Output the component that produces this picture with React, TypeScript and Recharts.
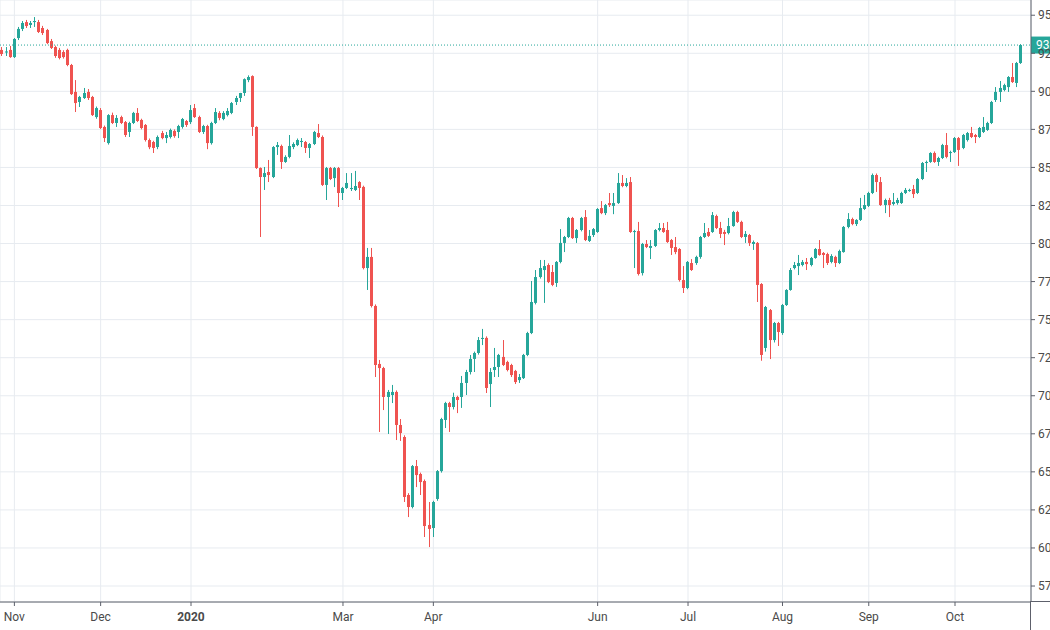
import React from 'react';
import { ComposedChart, Bar, XAxis, YAxis, CartesianGrid, ReferenceLine } from 'recharts';

// daily candles, Nov 2019 - Oct 2020
const opens = [
  92.72, 92.55, 92.72, 92.25, 93.5, 94.1, 94.55, 94.36, 94.55, 94.55,
  94.16, 94.03, 93.3, 92.91, 92.72, 92.58, 92.72, 91.73, 89.96, 89.3,
  89.56, 89.96, 89.63, 88.31, 88.77, 87.66, 86.6, 88.44, 87.92, 88.31,
  87.98, 87.33, 87.92, 88.58, 88.12, 87.79, 86.8, 86.67, 86.34, 87.26,
  86.93, 87.0, 87.4, 87.33, 87.66, 88.05, 87.98, 88.9, 88.31, 87.33,
  87.72, 86.6, 87.92, 88.58, 88.18, 88.44, 88.58, 89.3, 89.56, 89.89,
  90.74, 91.0, 87.66, 84.96, 84.37, 84.7, 84.37, 86.34, 86.41, 85.36,
  85.69, 86.34, 86.47, 86.67, 86.67, 86.28, 86.54, 87.26, 87.0, 83.85,
  84.96, 84.3, 84.96, 83.32, 83.65, 83.58, 83.52, 84.04, 83.72, 78.39,
  79.12, 75.9, 72.09, 71.82, 69.92, 70.05, 70.25, 68.08, 67.29, 63.48,
  62.69, 65.38, 64.86, 64.4, 61.51, 61.31, 63.22, 65.05, 68.41, 69.52,
  69.26, 69.92, 69.92, 70.84, 71.56, 72.42, 72.81, 73.73, 73.8, 70.77,
  71.69, 71.89, 72.55, 72.22, 72.02, 71.63, 71.03, 71.16, 72.68, 74.12,
  76.1, 77.8, 78.26, 78.59, 78.13, 77.41, 78.79, 80.04, 80.43, 81.68,
  80.36, 80.89, 81.74, 80.17, 80.56, 80.76, 82.33, 82.0, 82.66, 82.47,
  82.66, 83.98, 83.78, 84.04, 80.76, 80.82, 78.06, 79.97, 79.71, 79.84,
  80.89, 81.02, 80.89, 80.23, 79.77, 79.64, 77.6, 77.08, 78.72, 78.72,
  79.12, 80.43, 80.76, 80.76, 81.81, 81.02, 80.76, 80.69, 81.15, 82.07,
  81.42, 80.43, 80.56, 79.97, 80.04, 77.34, 73.14, 75.63, 73.66, 74.78,
  74.12, 75.96, 76.95, 78.39, 78.52, 78.59, 78.79, 78.59, 79.05, 79.64,
  79.38, 79.31, 78.79, 79.12, 78.72, 79.44, 81.09, 81.61, 81.28, 81.55,
  82.27, 82.47, 83.32, 84.5, 84.04, 82.53, 82.86, 82.6, 82.66, 82.66,
  83.32, 83.45, 83.58, 83.32, 84.24, 85.29, 85.36, 85.95, 85.36, 85.62,
  86.47, 85.95, 86.01, 86.93, 86.28, 86.8, 87.26, 87.13, 87.0, 87.33,
  87.46, 87.92, 89.43, 89.96, 90.09, 90.28, 90.94, 90.55, 91.86,
];
const highs = [
  92.91, 92.91, 92.98, 93.5, 94.23, 94.62, 94.69, 94.62, 94.88, 94.69,
  94.3, 94.1, 93.44, 93.0, 92.85, 92.7, 92.8, 91.8, 90.74, 89.7,
  90.22, 90.15, 89.7, 89.0, 88.9, 87.75, 88.5, 88.6, 88.44, 88.4,
  88.05, 88.0, 88.65, 88.9, 88.2, 87.85, 86.9, 86.75, 87.1, 87.4,
  87.33, 87.55, 87.5, 87.8, 88.25, 88.12, 89.1, 89.17, 88.4, 87.8,
  87.8, 88.0, 88.9, 88.7, 88.7, 88.9, 89.3, 89.7, 89.9, 90.85,
  91.05, 91.05, 87.7, 85.0, 85.03, 85.49, 86.4, 86.67, 86.5, 85.8,
  87.13, 86.65, 86.9, 86.93, 86.74, 86.6, 87.4, 87.85, 87.1, 85.03,
  85.03, 85.03, 85.03, 83.72, 84.63, 84.63, 84.77, 84.1, 83.8, 79.71,
  79.71, 76.0, 72.35, 71.9, 70.38, 70.71, 70.35, 68.47, 67.4, 63.6,
  65.45, 65.78, 64.95, 64.5, 63.02, 63.1, 65.12, 68.55, 69.6, 69.6,
  70.2, 70.0, 71.3, 71.7, 72.68, 72.9, 73.86, 74.39, 73.9, 71.82,
  73.14, 72.75, 73.66, 72.3, 72.1, 71.7, 71.43, 72.75, 74.2, 77.54,
  78.26, 78.92, 78.92, 78.7, 78.59, 78.85, 80.95, 80.5, 81.75, 81.75,
  80.95, 81.75, 82.2, 80.89, 81.02, 82.33, 82.79, 82.6, 83.32, 83.32,
  84.63, 84.5, 84.3, 84.37, 80.9, 81.42, 80.04, 80.23, 80.23, 80.95,
  81.35, 81.35, 81.42, 80.3, 80.43, 79.7, 78.52, 78.85, 78.98, 79.2,
  80.5, 81.35, 81.02, 82.07, 81.9, 81.42, 80.9, 81.68, 82.15, 82.15,
  81.5, 80.82, 80.63, 80.2, 80.1, 77.4, 75.9, 75.7, 74.85, 74.85,
  76.03, 77.0, 78.39, 78.79, 79.25, 78.92, 79.05, 79.12, 79.7, 80.23,
  79.44, 79.4, 79.3, 79.2, 79.6, 81.15, 82.0, 81.7, 81.6, 83.0,
  83.19, 83.4, 84.6, 84.6, 84.37, 82.95, 83.0, 83.32, 83.0, 83.4,
  83.65, 83.6, 83.85, 84.3, 85.36, 85.45, 86.0, 86.05, 85.7, 86.55,
  87.26, 86.1, 87.0, 87.0, 87.2, 87.33, 87.66, 87.2, 87.66, 88.31,
  88.0, 89.37, 90.28, 90.68, 90.5, 91.0, 91.86, 91.93, 93.1,
];
const lows = [
  92.32, 92.32, 92.2, 92.19, 93.37, 93.96, 94.16, 94.16, 94.23, 93.83,
  93.7, 93.1, 92.78, 92.2, 92.1, 92.15, 91.65, 89.76, 88.64, 88.97,
  89.5, 89.43, 88.38, 88.2, 87.52, 86.67, 86.5, 87.85, 87.66, 87.85,
  87.0, 87.0, 87.85, 87.98, 87.5, 86.7, 86.2, 85.95, 86.2, 86.85,
  86.6, 86.9, 86.95, 86.93, 87.55, 87.66, 87.85, 88.25, 87.26, 87.2,
  86.2, 86.5, 87.85, 88.1, 88.1, 88.35, 88.5, 89.1, 89.3, 89.7,
  90.6, 87.07, 84.9, 80.43, 83.52, 84.04, 84.3, 85.82, 84.9, 85.3,
  85.6, 86.2, 86.4, 86.34, 85.95, 85.62, 86.47, 86.93, 83.78, 82.86,
  84.17, 83.71, 82.4, 82.86, 83.58, 83.45, 83.45, 82.86, 78.3, 76.95,
  75.8, 71.23, 67.62, 69.06, 67.49, 69.52, 67.09, 67.03, 63.02, 62.03,
  62.6, 64.0, 63.48, 60.72, 60.06, 60.72, 63.1, 64.95, 67.88, 67.62,
  69.1, 68.86, 69.2, 70.05, 71.4, 71.56, 72.7, 73.33, 70.18, 69.26,
  71.23, 71.23, 71.95, 71.6, 71.23, 70.77, 70.84, 71.1, 72.6, 74.05,
  76.0, 77.7, 76.1, 77.4, 77.2, 77.15, 78.7, 79.44, 80.36, 80.3,
  80.04, 80.8, 80.16, 80.1, 80.43, 80.7, 81.93, 81.87, 82.4, 81.93,
  82.6, 83.7, 83.7, 80.7, 78.39, 77.9, 77.9, 79.7, 78.98, 79.77,
  80.8, 80.7, 80.04, 79.25, 79.3, 77.5, 76.75, 77.0, 78.2, 78.6,
  79.0, 80.36, 80.43, 80.7, 80.95, 80.36, 79.9, 80.6, 81.1, 81.35,
  80.36, 80.04, 79.84, 79.58, 76.16, 72.3, 72.9, 72.41, 73.5, 73.27,
  74.0, 75.9, 76.9, 78.3, 77.93, 78.5, 78.26, 78.5, 79.0, 79.2,
  78.39, 78.59, 78.7, 78.46, 78.65, 79.4, 81.0, 81.2, 81.15, 81.48,
  82.2, 82.4, 83.25, 83.39, 82.47, 82.0, 81.74, 82.5, 82.55, 82.6,
  83.25, 83.4, 82.99, 83.25, 84.17, 84.7, 85.3, 85.3, 85.1, 85.55,
  85.6, 85.36, 85.95, 85.1, 86.2, 86.7, 86.93, 86.6, 86.93, 87.26,
  87.4, 87.85, 89.3, 89.3, 90.0, 89.96, 90.55, 90.28, 91.8,
];
const closes = [
  92.45, 92.62, 92.25, 93.44, 94.1, 94.49, 94.29, 94.49, 94.62, 93.9,
  93.83, 93.17, 92.85, 92.32, 92.19, 92.25, 91.73, 89.82, 89.23, 89.63,
  89.89, 89.56, 88.44, 88.9, 87.59, 86.93, 88.44, 87.92, 88.25, 87.92,
  87.13, 87.92, 88.58, 88.05, 87.59, 86.8, 86.33, 86.28, 87.0, 86.93,
  87.13, 87.46, 87.06, 87.72, 88.18, 87.79, 88.77, 88.31, 87.33, 87.72,
  86.6, 87.92, 88.64, 88.25, 88.58, 88.71, 89.23, 89.56, 89.89, 90.8,
  90.94, 87.66, 84.96, 84.37, 84.63, 84.5, 86.34, 86.47, 85.36, 85.69,
  86.41, 86.54, 86.8, 86.74, 86.28, 86.54, 87.33, 87.0, 83.85, 84.96,
  84.24, 84.96, 83.32, 83.65, 83.98, 83.65, 83.78, 83.65, 78.39, 79.12,
  75.9, 72.02, 71.82, 69.92, 70.25, 70.25, 68.08, 67.55, 63.35, 62.69,
  65.38, 64.79, 64.33, 61.44, 61.25, 63.02, 65.05, 68.47, 69.52, 69.26,
  69.92, 69.72, 70.84, 71.56, 72.42, 72.81, 73.66, 73.8, 70.51, 71.56,
  71.89, 72.68, 72.02, 71.69, 71.36, 70.9, 71.23, 72.68, 74.12, 76.16,
  77.8, 78.39, 78.52, 77.47, 77.28, 78.79, 80.04, 80.43, 81.68, 80.36,
  80.89, 81.68, 80.23, 80.5, 80.95, 82.27, 82.0, 82.53, 82.53, 82.66,
  83.98, 83.78, 83.98, 80.76, 80.82, 78.0, 79.97, 79.77, 79.84, 80.89,
  81.02, 80.76, 80.1, 79.71, 79.44, 77.6, 77.08, 78.79, 78.26, 79.12,
  80.43, 80.69, 80.5, 81.87, 81.02, 80.63, 80.63, 81.15, 82.07, 81.42,
  80.43, 80.63, 80.04, 80.1, 77.28, 72.68, 75.83, 73.66, 74.78, 74.19,
  75.96, 76.95, 78.26, 78.59, 78.72, 78.79, 78.65, 79.05, 79.64, 79.25,
  79.25, 78.72, 79.18, 78.72, 79.51, 81.09, 81.61, 81.28, 81.55, 82.33,
  82.53, 83.32, 84.5, 84.04, 82.53, 82.86, 82.53, 82.73, 82.86, 83.32,
  83.52, 83.52, 83.25, 84.24, 85.29, 85.36, 85.95, 85.36, 85.62, 86.47,
  85.69, 86.01, 86.93, 86.15, 87.13, 87.26, 87.0, 87.0, 87.59, 87.66,
  87.92, 89.3, 89.96, 90.22, 90.41, 90.94, 90.61, 91.86, 93.04,
];

// first bar of each month shown on the time axis
const monthIdx = [3, 24, 46, 83, 105, 145, 167, 190, 211, 232];
const monthLabels = ['Nov', 'Dec', '2020', 'Mar', 'Apr', 'Jun', 'Jul', 'Aug', 'Sep', 'Oct'];
const priceTicks = [57.5, 60, 62.5, 65, 67.5, 70, 72.5, 75, 77.5, 80, 82.5, 85, 87.5, 90, 92.5, 95];
const emptyBars = 2; // right margin of the time scale

const UP = '#26a69a';
const DOWN = '#ef5350';
const AXIS = '#5d606b';
const TEXT = '#4a4a4a';
const GRID = '#e7ebf0';

const rows = [];
for (let i = 0; i < opens.length + emptyBars; i++) {
  if (i < opens.length) {
    rows.push({ i, o: opens[i], h: highs[i], l: lows[i], c: closes[i], range: [lows[i], highs[i]] });
  } else {
    rows.push({ i, range: null });
  }
}
const lastClose = closes[closes.length - 1];

function Candle(props: any) {
  const { x, y, width, height, payload } = props;
  if (!payload || payload.o == null) return null;
  const { o, h, l, c } = payload;
  const top = Math.min(y, y + height);
  const hgt = Math.abs(height);
  const span = h - l;
  const pos = (v: number) => (span > 0 ? top + ((h - v) / span) * hgt : top);
  const cx = Math.floor(x + width / 2) + 0.5;
  const bTop = pos(Math.max(o, c));
  const bBot = pos(Math.min(o, c));
  const color = c >= o ? UP : DOWN;
  return (
    <g>
      <line x1={cx} x2={cx} y1={top} y2={top + hgt} stroke={color} strokeWidth={1} />
      <rect x={cx - 1.5} y={bTop} width={3} height={Math.max(1, bBot - bTop)} fill={color} />
    </g>
  );
}

function TimeTick(props: any) {
  const { x, y, payload } = props;
  const k = monthIdx.indexOf(payload.value);
  const label = k >= 0 ? monthLabels[k] : '';
  return (
    <text x={x} y={y} dy="0.71em" textAnchor="middle" fill={TEXT} fontSize={12}
      fontFamily="Roboto, sans-serif" fontWeight={label === '2020' ? 700 : 400}>
      {label}
    </text>
  );
}

function PriceLine(props: any) {
  const { x1, x2, y1 } = props;
  const left = Math.min(x1, x2);
  const right = Math.max(x1, x2);
  return (
    <g>
      <line x1={left} x2={right} y1={y1} y2={y1} stroke={UP} strokeWidth={1} strokeDasharray="1 2" />
      <rect x={right} y={y1 - 8.5} width={70} height={17} fill={UP} />
      <text x={right + 5} y={y1} dy="0.355em" fill="#fff" fontSize={12} fontFamily="Roboto, sans-serif">
        {lastClose.toFixed(2)}
      </text>
    </g>
  );
}

export default function App() {
  return (
    <div style={{ position: 'absolute', left: 0, top: 0, width: 1050, height: 630, overflow: 'hidden', background: '#fff' }}>
      <ComposedChart width={1101} height={630} data={rows} margin={{ top: 0, right: 0, bottom: 0, left: 0 }}>
        <CartesianGrid stroke={GRID} />
        <XAxis
          dataKey="i"
          type="category"
          ticks={monthIdx}
          interval={0}
          height={28}
          tick={<TimeTick />}
          tickSize={4}
          tickMargin={6}
          axisLine={{ stroke: AXIS }}
          tickLine={{ stroke: AXIS }}
        />
        <YAxis
          orientation="right"
          width={70}
          domain={[56.45, 96]}
          ticks={priceTicks}
          allowDataOverflow
          tickFormatter={(v: number) => v.toFixed(2)}
          tick={{ fill: TEXT, fontSize: 12, fontFamily: 'Roboto, sans-serif' }}
          tickSize={4}
          tickMargin={3}
          axisLine={{ stroke: AXIS }}
          tickLine={{ stroke: AXIS }}
        />
        <Bar dataKey="range" shape={<Candle />} isAnimationActive={false} />
        <ReferenceLine y={lastClose} shape={<PriceLine />} />
      </ComposedChart>
      <div style={{ position: 'absolute', left: 1030, top: 602, width: 1, height: 28, background: AXIS }} />
      <div style={{ position: 'absolute', left: 1030, top: 601, width: 20, height: 1, background: AXIS }} />
    </div>
  );
}
